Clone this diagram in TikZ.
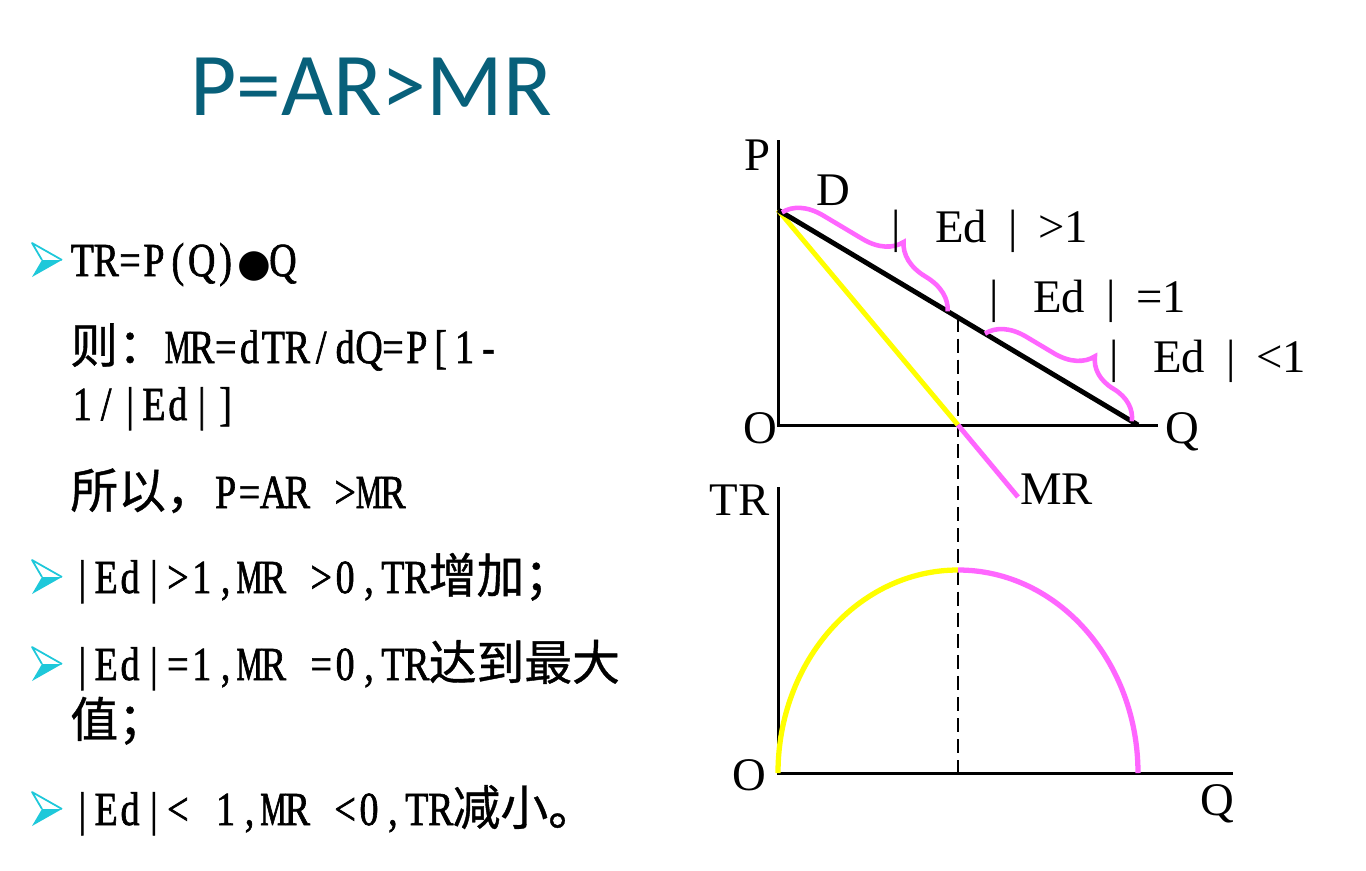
\documentclass[tikz,border=0pt]{standalone}
\usepackage{fontspec}
\setmainfont{Liberation Serif}
\newfontfamily\latn[FakeStretch=0.8,FakeBold=1.3]{Liberation Serif}
\newfontfamily\latnM[FakeStretch=0.62,FakeBold=1.3]{Liberation Serif}
\newfontfamily\cjk[FakeBold=0.8]{Noto Sans CJK SC}
\newfontfamily\ttlfont{Carlito}
\newfontfamily\djv{DejaVu Sans}
\usetikzlibrary{decorations.pathreplacing}
\definecolor{ttlcol}{RGB}{8,96,122}
\definecolor{bulcol}{RGB}{30,200,218}
\definecolor{mag}{RGB}{255,102,255}
\definecolor{yel}{RGB}{255,255,0}
\newlength\cellw
\setlength\cellw{13.6pt}
\def\monoloop#1{\ifx\relax#1\else\makebox[\cellw][c]{#1}\expandafter\monoloop\fi}
\newcommand\mono[1]{{\latn\fontsize{27pt}{30pt}\selectfont\monoloop#1\relax}}
\newcommand\mM{{\latnM M}}
\begin{document}
\begin{tikzpicture}[x=0.02cm,y=-0.02cm,
  lefttext/.style={anchor=base west, inner sep=0pt, font=\cjk\fontsize{27.2pt}{30pt}\selectfont},
  lab/.style={inner sep=0pt, font=\fontsize{26.6pt}{30pt}\selectfont},
  axis/.style={line width=1.7pt},
  dline/.style={line width=2.8pt},
  bracestyle/.style={draw=mag, line width=2.6pt, decorate, decoration={brace, amplitude=21pt, aspect=0.62}},
  bul/.pic={
    \fill[bulcol] (10,17) -- (30,17) -- (0,34) -- cycle;
    \draw[bulcol, line width=1pt, line join=round] (10,17) -- (0,0) -- (30,17);
  }]
\fill[white] (0,0) rectangle (1366,870);
\path[use as bounding box] (0,0) rectangle (1366,870);

% title
\node[anchor=base west, inner sep=0pt, text=ttlcol, font=\ttlfont\fontsize{51pt}{56pt}\selectfont] (title) at (190,115) {P=AR>MR};

% bullets
\pic at (32,243) {bul};
\pic at (32,560) {bul};
\pic at (32,647) {bul};
\pic at (32,792) {bul};

% left text
\node[lefttext] (l1) at (70,276) {\mono{TR=P(Q)}\makebox[19pt]{\djv\fontsize{22pt}{30pt}\selectfont ●}\mono{Q}};
\node[lefttext] (l2) at (70,363) {则：\mono{\mM R=dTR/dQ=P[1-}};
\node[lefttext] (l3) at (70,420) {\mono{1/|Ed|]}};
\node[lefttext] (l4) at (70,508) {所以，\mono{P=AR~>\mM R}};
\node[lefttext] (l5) at (70,593) {\mono{|Ed|>1,\mM R~>0,TR}增加；};
\node[lefttext] (l6) at (70,680) {\mono{|Ed|=1,\mM R~=0,TR}达到最大};
\node[lefttext] (l7) at (70,737) {值；};
\node[lefttext] (l8) at (70,825) {\mono{|Ed|<~1,\mM R~<0,TR}减小。};

% upper diagram coordinates
\coordinate (Ptop) at (778,140);
\coordinate (O1) at (778,425);
\coordinate (Qend1) at (1158,425);
\coordinate (Dtop) at (778,210);
\coordinate (Dend) at (1138,425);
\coordinate (Mid) at (958,317.5);
\coordinate (Qmid) at (958,425);
\coordinate (MRend) at (1018,497);
\coordinate (b1s) at (782,212.4);
\coordinate (b1e) at (948,311.5);
\coordinate (b2s) at (985,333.6);
\coordinate (b2e) at (1132,421.4);
% lower diagram coordinates
\coordinate (TRtop) at (778,487);
\coordinate (O2) at (778,773);
\coordinate (Qend2) at (1233,773);
\coordinate (Peak) at (958,570);
\coordinate (TRend) at (1138,773);
\coordinate (Dbot) at (958,773);

% dashed guide
\draw[line width=0.9pt, dash pattern=on 8pt off 4pt] (Mid) -- (Dbot);

% axes
\draw[axis] (Ptop) -- (O1) -- (Qend1);
\draw[axis] (TRtop) -- (O2) -- (Qend2);

% MR line
\draw[yel, dline] (Dtop) -- (Qmid);
\draw[mag, dline] (Qmid) -- (MRend);
% demand line
\draw[dline] (Dtop) -- (Dend);

% braces
\draw[bracestyle] (b1s) -- (b1e);
\draw[bracestyle] (b2s) -- (b2e);

% TR curve
\draw[yel, line width=3pt] (O2) arc[start angle=180, end angle=90, x radius=180, y radius=-203];
\draw[mag, line width=3pt] (Peak) arc[start angle=90, end angle=0, x radius=180, y radius=-203];

% labels
\node[lab, anchor=base] (Plab) at (757,170) {P};
\node[lab, anchor=base] (Dlab) at (833,205) {D};
\node[lab, anchor=base] (O1lab) at (760,443) {O};
\node[lab, anchor=base] (Q1lab) at (1182,443) {Q};
\node[lab, anchor=base west] (MRlab) at (1020,504) {MR};
\node[lab, anchor=base east] (TRlab) at (770,515) {TR};
\node[lab, anchor=base] (O2lab) at (749,790) {O};
\node[lab, anchor=base] (Q2lab) at (1217,815) {Q};
\node[lab, anchor=base west] (E1) at (891,242) {|\hspace{0.74em}Ed\hspace{0.45em}|\hspace{0.45em}>1};
\node[lab, anchor=base west] (E2) at (989,312) {|\hspace{0.74em}Ed\hspace{0.45em}|\hspace{0.45em}=1};
\node[lab, anchor=base west] (E3) at (1109,372) {|\hspace{0.74em}Ed\hspace{0.45em}|\hspace{0.45em}<1};
\end{tikzpicture}
\end{document}
